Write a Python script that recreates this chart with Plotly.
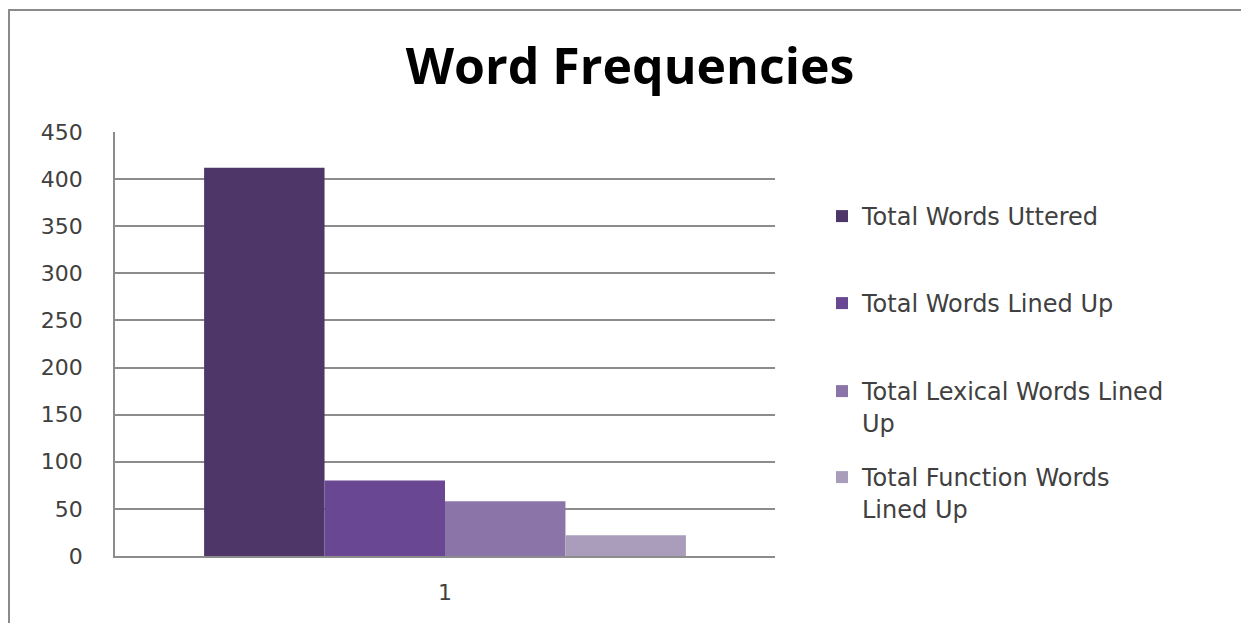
import plotly.graph_objects as go

categories = ["1"]
series_names = [
    "Total Words Uttered",
    "Total Words Lined Up",
    "Total Lexical Words Lined<br>Up",
    "Total Function Words<br>Lined Up",
]
series_values = [[412], [80], [58], [22]]
colors = ["#4e3668", "#6a4792", "#8b74a8", "#aa9dbb"]
y_ticks = [0, 50, 100, 150, 200, 250, 300, 350, 400, 450]

W, H = 1249, 623
# page body offset of ~8px is compensated for
L, R, T, B = 107, 767, 124, 548

fig = go.Figure()
legend_tops = [186, 273, 361, 447]
legend_keys = ["legend", "legend2", "legend3", "legend4"]
for name, vals, col, lk in zip(series_names, series_values, colors, legend_keys):
    fig.add_trace(go.Bar(
        x=categories, y=vals, name=name,
        marker=dict(color=col, line=dict(width=0)),
        legend=lk,
    ))

legend_common = dict(
    xref="container", yref="container",
    x=814 / W, xanchor="left", yanchor="top",
    font=dict(family="DejaVu Sans", size=24, color="#404040"),
    bgcolor="rgba(0,0,0,0)", valign="top",
)
layout_legends = {}
for lk, top in zip(legend_keys, legend_tops):
    layout_legends[lk] = dict(legend_common, y=1 - top / H)

fig.update_layout(
    width=W, height=H,
    margin=dict(l=L, r=W - R, t=T, b=H - B),
    paper_bgcolor="white", plot_bgcolor="white",
    barmode="group", bargap=0.27, bargroupgap=0,
    showlegend=True,
    title=dict(
        text="<b>Word Frequencies</b>",
        x=622 / W, xanchor="center", xref="container",
        y=1 - 58 / H, yanchor="middle", yref="container",
        font=dict(family="Open Sans", size=50, color="#000000"),
    ),
    xaxis=dict(
        type="category",
        showgrid=False, showline=True, linecolor="#8c8c8c", linewidth=1.5,
        tickfont=dict(family="DejaVu Sans", size=22, color="#404040"),
        ticks="", ticklabelstandoff=16,
    ),
    yaxis=dict(
        range=[0, 450], tickvals=y_ticks,
        showgrid=True, gridcolor="#8c8c8c", gridwidth=1.5,
        showline=True, linecolor="#8c8c8c", linewidth=1.5,
        zeroline=False,
        tickfont=dict(family="DejaVu Sans", size=22, color="#404040"),
        ticks="", ticklabelstandoff=26,
    ),
    shapes=[dict(
        type="rect", xref="paper", yref="paper",
        x0=(1 - L) / (R - L), x1=(1262 - L) / (R - L),
        y0=(B - 640) / (B - T), y1=(B - 2) / (B - T),
        line=dict(color="#8a8a8a", width=2), fillcolor="rgba(0,0,0,0)",
        layer="below",
    )],
    **layout_legends,
)

fig.write_html("out.html")
